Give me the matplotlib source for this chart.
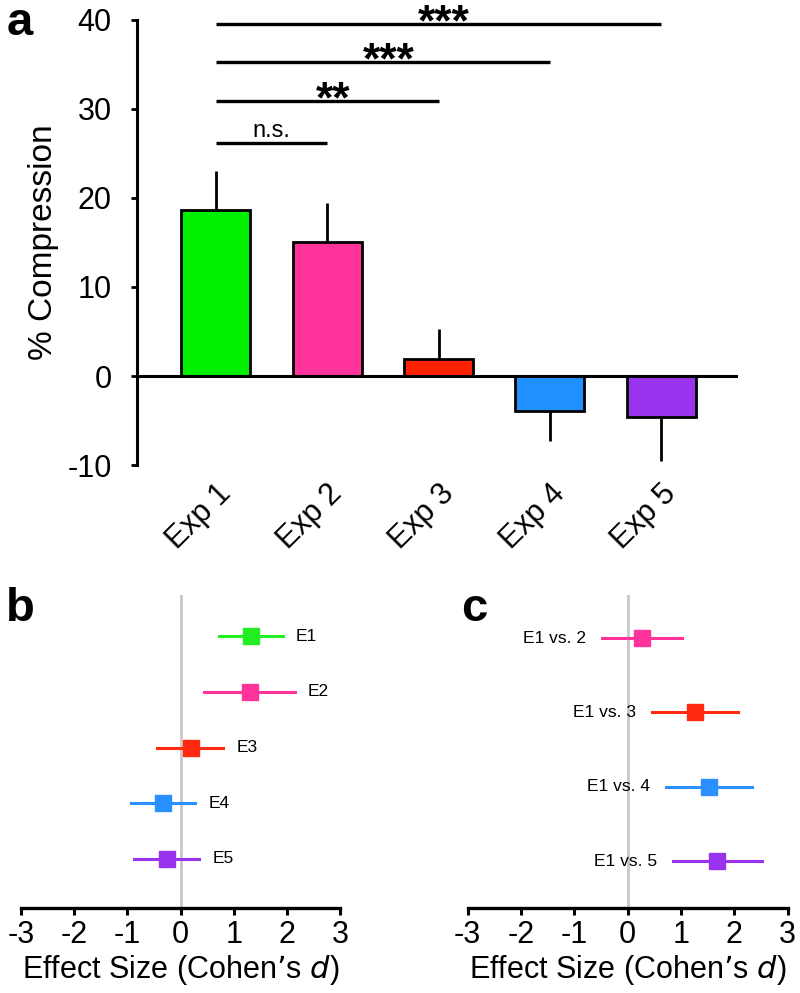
import numpy as np
import matplotlib.pyplot as plt

plt.rcParams['font.family'] = ['Liberation Sans', 'DejaVu Sans']
plt.rcParams['axes.unicode_minus'] = False

# panel a data
exp_labels = ['Exp 1', 'Exp 2', 'Exp 3', 'Exp 4', 'Exp 5']
compression = [18.6, 15.0, 1.9, -3.9, -4.6]
compression_err = [4.4, 4.4, 3.4, 3.4, 5.0]
bar_colors = ['#00f000', '#ff3399', '#ff2200', '#1e90ff', '#9933ee']
sig_to = [1, 2, 3, 4]
sig_heights = [26.2, 30.9, 35.3, 39.6]
sig_text = ['n.s.', '**', '***', '***']

# panel b data
eff_labels = ['E1', 'E2', 'E3', 'E4', 'E5']
eff_d = [1.32, 1.31, 0.19, -0.33, -0.26]
eff_lo = [0.72, 0.45, -0.44, -0.93, -0.87]
eff_hi = [1.92, 2.15, 0.80, 0.28, 0.35]
eff_colors = ['#22ee22', '#ff3399', '#ff2a10', '#2a8fff', '#9933ee']

# panel c data
cmp_labels = ['E1 vs. 2', 'E1 vs. 3', 'E1 vs. 4', 'E1 vs. 5']
cmp_d = [0.26, 1.26, 1.53, 1.68]
cmp_lo = [-0.48, 0.46, 0.71, 0.85]
cmp_hi = [1.01, 2.07, 2.33, 2.51]
cmp_colors = ['#ff3399', '#ff2a10', '#2a8fff', '#9933ee']

fig = plt.figure(figsize=(8, 9.93), dpi=100)

# ---- a ----
ax = fig.add_axes([0.171, 0.5317, 0.7515, 0.4482])
x = np.arange(len(exp_labels))
ax.bar(x, compression, width=0.62, color=bar_colors, edgecolor='black', linewidth=2, zorder=3)
up = [e if v > 0 else 0 for v, e in zip(compression, compression_err)]
dn = [e if v < 0 else 0 for v, e in zip(compression, compression_err)]
ax.errorbar(x, compression, yerr=[dn, up], fmt='none', ecolor='black', elinewidth=2, capsize=0, zorder=2)
ax.axhline(0, color='black', lw=2.2, zorder=4)
ax.set_xlim(-0.71, 4.69)
ax.set_ylim(-10, 40)
ax.set_yticks([-10, 0, 10, 20, 30, 40])
ax.set_xticks(x)
ax.set_xticklabels(exp_labels, rotation=45, ha='right', rotation_mode='anchor')
ax.tick_params(axis='x', length=0, labelsize=22, pad=10)
ax.tick_params(axis='y', length=4, width=2, labelsize=22, direction='out', pad=14)
for s in ['top', 'right', 'bottom']:
    ax.spines[s].set_visible(False)
ax.spines['left'].set_linewidth(2.2)
ax.set_ylabel('% Compression', fontsize=24, labelpad=6)

for end, h, t in zip(sig_to, sig_heights, sig_text):
    ax.plot([0, end], [h, h], color='black', lw=2.4, solid_capstyle='butt', clip_on=False)
    xm = end / 2
    if t == 'n.s.':
        ax.annotate(t, (xm, h), xytext=(0, 4), textcoords='offset points',
                    ha='center', va='baseline', fontsize=17)
    else:
        ax.annotate(t, (xm + 0.05, h), xytext=(0, -8.5), textcoords='offset points',
                    ha='center', va='baseline', fontsize=32, fontweight='bold')

fig.text(0.008, 0.999, 'a', fontsize=34, fontweight='bold', va='top')


def forest(ax, d, lo, hi, colors, labels, side):
    n = len(d)
    y = np.arange(n)
    ax.axvline(0, color='#c8c8c8', lw=2, zorder=1)
    for i in range(n):
        ax.plot([lo[i], hi[i]], [y[i], y[i]], color=colors[i], lw=2.2, zorder=2)
        ax.plot(d[i], y[i], marker='s', ms=12, color=colors[i], zorder=3)
        if side == 'right':
            ax.text(hi[i] + 0.25, y[i], labels[i], ha='left', va='center', fontsize=12.5)
        else:
            ax.text(lo[i] - 0.3, y[i], labels[i], ha='right', va='center', fontsize=12.5)
    ax.set_xlim(-3, 3)
    ax.set_xticks([-3, -2, -1, 0, 1, 2, 3])
    ax.set_yticks([])
    for s in ['top', 'right', 'left']:
        ax.spines[s].set_visible(False)
    ax.spines['bottom'].set_linewidth(2.4)
    ax.tick_params(axis='x', length=5, width=2.2, labelsize=22, pad=4)
    ax.set_xlabel("Effect Size (Cohen\u2019s $\\it{d}$)", fontsize=22, labelpad=2)


# ---- b ----
axb = fig.add_axes([0.02625, 0.0856, 0.39875, 0.3152])
forest(axb, eff_d, eff_lo, eff_hi, eff_colors, eff_labels, 'right')
axb.set_ylim(4.88, -0.74)
fig.text(0.008, 0.409, 'b', fontsize=34, fontweight='bold', va='top')

# ---- c ----
axc = fig.add_axes([0.5846, 0.0856, 0.4, 0.3152])
forest(axc, cmp_d, cmp_lo, cmp_hi, cmp_colors, cmp_labels, 'left')
axc.set_ylim(3.63, -0.58)
fig.text(0.576, 0.409, 'c', fontsize=34, fontweight='bold', va='top')

fig.savefig('out.png', dpi=100)
